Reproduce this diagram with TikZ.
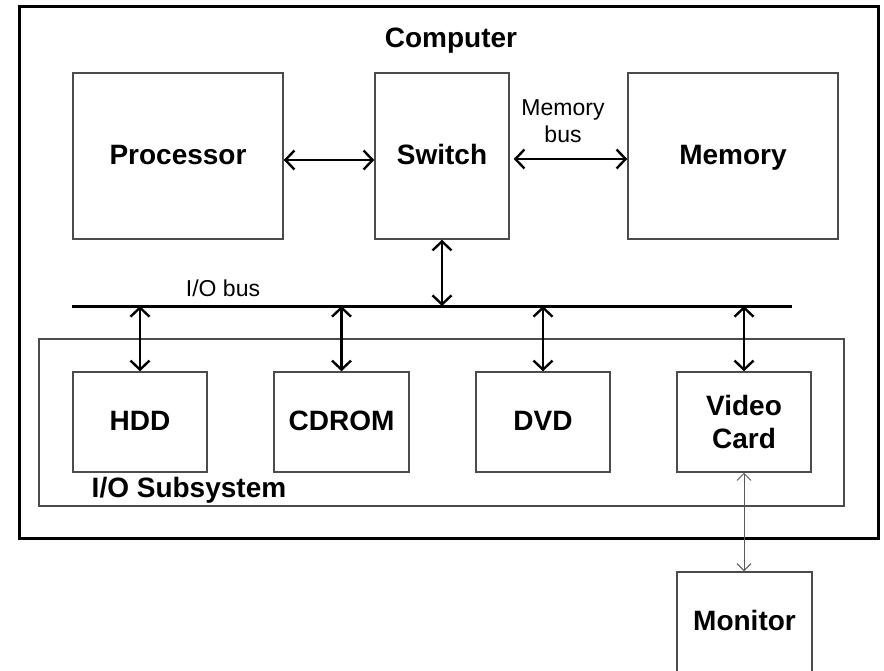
\documentclass[tikz,border=0pt]{standalone}
\usepackage{fontspec}
\setmainfont{Liberation Sans}
\usetikzlibrary{arrows.meta}
\begin{document}
\begin{tikzpicture}[x=1pt,y=-1pt,
  box/.style={draw=black!70,line width=1.5pt,rectangle,inner sep=0pt,
    font=\fontsize{28}{33}\selectfont\bfseries,align=center},
  oneline/.style={text height=18pt,text depth=2pt},
  busarrow/.style={line width=2.7pt,{Straight Barb[length=9pt,width=19pt,line width=2.4pt]}-{Straight Barb[length=9pt,width=19pt,line width=2.4pt]}},
  thinarrow/.style={draw=black!65,line width=1pt,{Straight Barb[length=7pt,width=14pt,line width=1pt]}-{Straight Barb[length=7pt,width=14pt,line width=1pt]}},
  boldlbl/.style={font=\fontsize{28}{33}\selectfont\bfseries,inner sep=0pt,text height=18pt,text depth=2pt},
  lbl/.style={font=\fontsize{23}{27}\selectfont,inner sep=0pt,align=center}]
\useasboundingbox (0,0) rectangle (884,670);
% outer computer box
\node[draw=black,line width=3pt,rectangle,inner sep=0pt,minimum width=859pt,minimum height=532pt] (computer) at (448.5,272) {};
\node[boldlbl] (computerlbl) at (451,39) {Computer};
% top row
\node[box,oneline,minimum width=210pt,minimum height=166pt] (proc) at (178,156) {Processor};
\node[box,oneline,minimum width=134pt,minimum height=166pt] (switch) at (442,156) {Switch};
\node[box,oneline,minimum width=210pt,minimum height=166pt] (mem) at (733,156) {Memory};
\node[lbl] (membus) at (563,121) {Memory\\bus};
\draw[busarrow] ([shift={(0,4)}]proc.east) -- ([shift={(0,4)}]switch.west);
\draw[busarrow] ([shift={(4,3)}]switch.east) -- ([shift={(0,3)}]mem.west);
% I/O bus
\coordinate (busL) at (72,306);
\coordinate (busR) at (792,306);
\draw[line width=3pt] (busL) -- (busR);
\node[lbl,text height=16pt,text depth=1pt] (iobus) at (223,288.5) {I/O bus};
\coordinate (bsw) at (442,306);
\draw[busarrow] (switch.south) -- (bsw);
% I/O subsystem
\node[draw=black!70,line width=1.5pt,rectangle,inner sep=0pt,minimum width=805pt,minimum height=167pt] (iosub) at (441.5,422.5) {};
\node[boldlbl] (iosublbl) at (189,489) {I/O Subsystem};
\node[box,oneline,minimum width=134pt,minimum height=100pt] (hdd) at (140,422) {HDD};
\node[box,oneline,minimum width=135pt,minimum height=100pt] (cdrom) at (341.5,422) {CDROM};
\node[box,oneline,minimum width=134pt,minimum height=100pt] (dvd) at (543,422) {DVD};
\node[box,minimum width=134pt,minimum height=100pt] (video) at (744,422) {Video\\Card};
\coordinate (b1) at (140,306);
\coordinate (b2) at (341.5,306);
\coordinate (b3) at (543,306);
\coordinate (b4) at (744,306);
\draw[busarrow] (b1) -- (hdd.north);
\draw[busarrow] (b2) -- (cdrom.north);
\draw[busarrow] (b3) -- (dvd.north);
\draw[busarrow] (b4) -- (video.north);
% monitor
\node[box,oneline,minimum width=135pt,minimum height=100pt] (monitor) at (744.5,622) {Monitor};
\draw[thinarrow] (video.south) -- (monitor.north -| video.south);
\end{tikzpicture}
\end{document}
